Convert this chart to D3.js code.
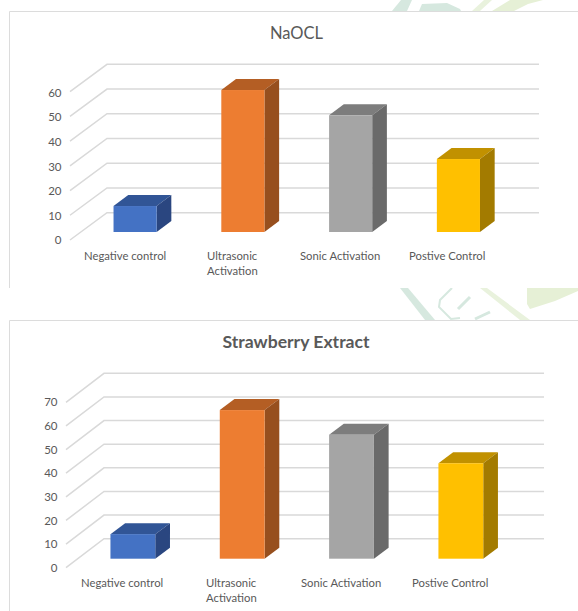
<!DOCTYPE html>
<html><head><meta charset="utf-8">
<script src="https://cdn.jsdelivr.net/npm/d3@7"></script>
<style>
html,body{margin:0;padding:0;background:#fff;overflow:hidden}
svg{display:block}
text{font-family:Lato,"Open Sans",sans-serif}
</style></head><body>
<svg id="c" width="578" height="611"></svg>
<script>
const categories = ["Negative control", "Ultrasonic Activation", "Sonic Activation", "Postive Control"];
const naoclValues = [10.5, 57.4, 47.2, 29.5];
const strawberryValues = [10.4, 62.9, 52.5, 40.4];
const naoclTicks = [0, 10, 20, 30, 40, 50, 60];
const strawberryTicks = [0, 10, 20, 30, 40, 50, 60, 70];
const fronts = ["#4472c4", "#ed7d31", "#a5a5a5", "#ffc000"];
const tops = ["#315596", "#b45e24", "#7d7d7d", "#c19100"];
const sides = ["#2a4680", "#974f1e", "#6a6a6a", "#a37b00"];

const svg = d3.select("#c");

// pale watermark showing around the cards
const wm = svg.append("g");
[["#d6e8df","M401,0L392,11L407,11L412,0Z"],
 ["#d6e8df","M422,4L447,3L460,9L461,11L419,11Z"],
 ["#e9f2dd","M484,0L472,11L480,11L492,0Z"],
 ["#e6f0d6","M510,0L492,11L514,11L528,4L543,0Z"],
 ["#d6e8df","M400,288L408,288L435,320L425,320Z"],
 ["#e9f2dd","M480,288L487,288L530,320L520,320Z"],
 ["#e6f0d6","M527,288L578,288L578,291L555,301L530,309L527,304Z"]
].forEach(d => wm.append("path").attr("d", d[1]).attr("fill", d[0]));
wm.append("path").attr("fill", "none").attr("stroke", "#d6e8df").attr("stroke-width", 2)
  .attr("d", "M452,288L440,300L439,307L451,319L460,318");
wm.append("path").attr("fill", "none").attr("stroke", "#d6e8df").attr("stroke-width", 3)
  .attr("d", "M470,297L458,309M475,319L490,312");

function chart(o) {
  const g = svg.append("g");
  g.append("rect").attr("x", 9.5).attr("y", o.cardTop).attr("width", 600).attr("height", o.cardBottom - o.cardTop)
    .attr("fill", "#fff");
  g.append("path").attr("fill", "none").attr("stroke", "#dcdcdc")
    .attr("d", d3.line()([[9.5, o.cardBottom], [9.5, o.cardTop], [578, o.cardTop]]));
  g.append("text").attr("x", o.titleX).attr("y", o.titleY).attr("text-anchor", "middle")
    .attr("fill", "#595959").attr("font-size", o.titleSize).attr("font-weight", o.titleWeight).text(o.title);

  const y = d3.scaleLinear().domain([0, o.max]).range([o.backZero, o.backTop]);
  const x = d3.scaleBand().domain(categories).range(o.xRange).paddingInner(o.pad).paddingOuter(o.pad / 2);

  const wallDy = o.frontZero - o.backZero;

  o.ticks.forEach(t => {
    g.append("path").attr("fill", "none").attr("stroke", "#d9d9d9").attr("stroke-width", 1.5)
      .attr("d", d3.line()([[o.frontX, y(t) + wallDy], [o.backX, y(t)], [o.right, y(t)]]));
  });

  const axis = d3.axisLeft(d3.scaleLinear().domain([0, o.max]).range([o.frontZero, o.frontTop]))
    .tickValues(o.ticks).tickSize(0).tickPadding(0);
  const ax = g.append("g").attr("transform", `translate(${o.frontX - 8.5},0)`).call(axis);
  ax.select(".domain").remove();
  ax.selectAll("text").attr("fill", "#595959").attr("font-size", 11.5)
    .style("font-family", "Lato,sans-serif");

  const h = v => y(0) - y(v);
  const bars = g.selectAll("g.bar").data(o.values).join("g").attr("class", "bar");
  bars.each(function (v, i) {
    const b = d3.select(this), c = categories[i];
    const x0 = x(c), w = x.bandwidth(), yb = o.barBase, yt = yb - h(v);
    const dx = o.barDx, dy = o.barDy;
    b.append("path").attr("fill", tops[i])
      .attr("d", d3.line()([[x0, yt], [x0 + dx, yt - dy], [x0 + w + dx, yt - dy], [x0 + w, yt]]) + "Z");
    b.append("path").attr("fill", sides[i])
      .attr("d", d3.line()([[x0 + w, yt], [x0 + w + dx, yt - dy], [x0 + w + dx, yb - dy], [x0 + w, yb]]) + "Z");
    b.append("rect").attr("x", x0).attr("y", yt).attr("width", w).attr("height", yb - yt).attr("fill", fronts[i]);
  });

  categories.forEach((c, i) => {
    const t = g.append("text").attr("fill", "#595959").attr("font-size", 11.3);
    o.labels[i].forEach((s, k) => {
      t.append("tspan").attr("x", o.labelX[i]).attr("y", o.labelY + k * 15).text(s);
    });
  });
}

const wrapped = [["Negative control"], ["Ultrasonic", "Activation"], ["Sonic Activation"], ["Postive Control"]];

chart({ title: "NaOCL", titleX: 296.5, titleY: 39, titleSize: 16.5, titleWeight: 400, cardTop: 11.5, cardBottom: 288,
  max: 60, ticks: naoclTicks, values: naoclValues, backZero: 212.7, backTop: 64.3, frontX: 70, backX: 107, frontZero: 240, frontTop: 92.7,
  right: 539, xRange: [81.2, 512.3], pad: 0.6, barBase: 232, barDx: 14.7, barDy: 11,
  labels: wrapped, labelX: [84, 207, 300, 409], labelY: 260 });

chart({ title: "Strawberry Extract", titleX: 296, titleY: 348, titleSize: 17.6, titleWeight: 700, cardTop: 320.5, cardBottom: 640,
  max: 70, ticks: strawberryTicks, values: strawberryValues, backZero: 538.7, backTop: 373.3, frontX: 66, backX: 104, frontZero: 567.7, frontTop: 402.3,
  right: 544, xRange: [78.2, 515.5], pad: 0.59, barBase: 558.7, barDx: 14.7, barDy: 11,
  labels: wrapped, labelX: [81, 206, 301, 412], labelY: 587 });
</script>
</body></html>
